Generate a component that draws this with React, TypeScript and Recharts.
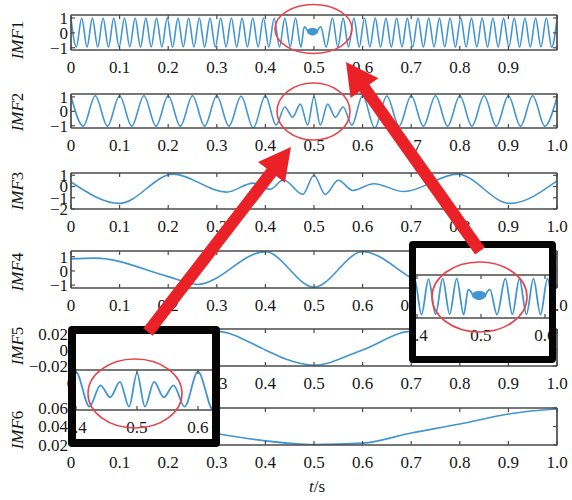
import React from "react";
import { LineChart, Line, XAxis, YAxis } from "recharts";

type Pt = [number, number];

const SERIF = '"Liberation Serif", "Times New Roman", Times, serif';
const FRAME = "#4a4a4a";
const TRACE = "#4195d1";
const ARROW_RED = "#ea2227";
const RING_RED = "#e2474d";
const INK = "#161616";

// Time axis ticks (s)
const timeTicks = [0, 0.1, 0.2, 0.3, 0.4, 0.5, 0.6, 0.7, 0.8, 0.9, 1.0];
const zoomTicks = [0.4, 0.5, 0.6];

// Amplitude ticks of each component
const imf1Ticks = [-1, 0, 1];
const imf2Ticks = [-1, 0, 1];
const imf3Ticks = [-2, -1, 0, 1];
const imf4Ticks = [-1, 0, 1];
const imf5Ticks = [-0.02, 0, 0.02];
const imf6Ticks = [0.02, 0.04, 0.06];

// IMF1: fast oscillation with the disturbance near t = 0.5 s
const imf1: Pt[] = [
  [0.0, 0.95], [0.011, -0.95], [0.022, 1.0], [0.033, -0.96], [0.044, 0.99], [0.055, -0.95],
  [0.066, 1.0], [0.077, -0.96], [0.088, 0.99], [0.099, -0.95], [0.11, 1.0], [0.121, -0.95],
  [0.132, 1.0], [0.143, -0.96], [0.154, 0.99], [0.165, -0.95], [0.176, 1.0], [0.187, -0.95],
  [0.198, 1.0], [0.209, -0.96], [0.22, 0.99], [0.231, -0.95], [0.242, 1.0], [0.253, -0.95],
  [0.264, 1.0], [0.275, -0.96], [0.286, 0.99], [0.297, -0.95], [0.308, 1.0], [0.319, -0.95],
  [0.33, 1.0], [0.341, -0.96], [0.352, 0.99], [0.363, -0.95], [0.374, 1.0], [0.385, -0.95],
  [0.396, 1.0], [0.407, -0.96], [0.418, 0.98], [0.429, -0.95], [0.44, 1.0], [0.451, -0.94],
  [0.462, 1.0], [0.473, -0.97],
  [0.48, 0.4], [0.484, 0.3],
  [0.487, 0.1], [0.488, 0.0], [0.489, 0.22], [0.49, -0.06], [0.491, 0.26], [0.492, -0.1],
  [0.493, 0.28], [0.494, -0.12], [0.495, 0.29], [0.496, -0.13], [0.497, 0.29], [0.498, -0.13],
  [0.499, 0.29], [0.5, -0.12], [0.501, 0.28], [0.502, -0.1], [0.503, 0.26], [0.504, -0.06],
  [0.505, 0.22], [0.506, 0.0], [0.507, 0.1],
  [0.51, 0.3], [0.514, 0.4],
  [0.525, -0.97], [0.538, 1.0], [0.549, -0.95], [0.56, 0.99], [0.571, -0.95], [0.582, 1.0],
  [0.593, -0.96], [0.604, 1.0], [0.615, -0.95], [0.626, 0.99], [0.637, -0.95], [0.648, 1.0],
  [0.659, -0.96], [0.67, 1.0], [0.681, -0.95], [0.692, 0.99], [0.703, -0.95], [0.714, 1.0],
  [0.725, -0.96], [0.736, 1.0], [0.747, -0.95], [0.758, 0.99], [0.769, -0.95], [0.78, 1.0],
  [0.791, -0.96], [0.802, 1.0], [0.813, -0.95], [0.824, 0.99], [0.835, -0.95], [0.846, 1.0],
  [0.857, -0.96], [0.868, 1.0], [0.879, -0.95], [0.89, 0.99], [0.901, -0.95], [0.912, 1.0],
  [0.923, -0.96], [0.934, 1.0], [0.945, -0.95], [0.956, 0.99], [0.967, -0.95], [0.978, 1.0],
  [0.989, -0.96], [1.0, 0.9],
];

// IMF2: 20 Hz component, modulated between 0.42 s and 0.58 s
const imf2: Pt[] = [
  [0.0, 1.06], [0.025, -1.02], [0.05, 1.08], [0.075, -1.02], [0.1, 1.08], [0.125, -1.02],
  [0.15, 1.08], [0.175, -1.02], [0.2, 1.08], [0.225, -1.02], [0.25, 1.08], [0.275, -1.02],
  [0.3, 1.08], [0.325, -1.02], [0.35, 1.04], [0.375, -1.15], [0.4, 1.08],
  [0.422, -0.95], [0.44, 0.3], [0.456, -0.4], [0.472, 0.5], [0.487, -0.95], [0.5, 1.02],
  [0.513, -0.95], [0.528, 0.5], [0.544, -0.4], [0.56, 0.3], [0.578, -0.95],
  [0.6, 1.1], [0.625, -1.15], [0.65, 1.06], [0.675, -1.02], [0.7, 1.08], [0.725, -1.02],
  [0.75, 1.08], [0.775, -1.02], [0.8, 1.08], [0.825, -1.02], [0.85, 1.08], [0.875, -1.02],
  [0.9, 1.08], [0.925, -1.02], [0.95, 1.08], [0.975, -1.02], [1.0, 1.0],
];

const imf3: Pt[] = [
  [0.0, 0.4], [0.1, -1.5], [0.21, 1.1], [0.32, -0.5], [0.375, 0.3], [0.41, -0.25],
  [0.437, 0.6], [0.477, -0.7], [0.5, 1.0], [0.523, -0.7], [0.55, 0.55], [0.58, -0.35],
  [0.623, 0.25], [0.685, -0.45], [0.795, 1.1], [0.903, -1.5], [1.0, 0.5],
];

const imf4: Pt[] = [
  [0.0, 0.85], [0.05, 0.9], [0.2, -0.4], [0.26, -0.95], [0.4, 1.35], [0.5, -1.15],
  [0.6, 1.35], [0.74, -0.95], [0.8, -0.4], [0.95, 0.9], [1.0, 0.85],
];

const imf5: Pt[] = [
  [0.0, 0.0], [0.1, -0.017], [0.3, 0.023], [0.4, 0.0], [0.44, -0.011], [0.5, -0.019],
  [0.6, 0.0], [0.7, 0.023], [0.9, -0.015], [1.0, -0.004],
];

const imf6: Pt[] = [
  [0.0, 0.059], [0.1, 0.053], [0.2, 0.043], [0.3, 0.0325], [0.4, 0.0245], [0.5, 0.0205],
  [0.6, 0.022], [0.7, 0.033], [0.8, 0.0427], [0.9, 0.0535], [0.95, 0.057], [1.0, 0.059],
];

const fmtTime = (v: number) => (v === 0 ? "0" : v.toFixed(1));
const fmtAmp = (v: number) => (v < 0 ? "\u2212" : "") + String(Math.abs(v));

const WIDTH = 572;
const PLOT_LEFT = 71;
const PLOT_RIGHT = 557;
const PAD_TOP = 14;
const PAD_BOTTOM = 32;
// every axis band is 1px thick; margins are reduced by that amount
const AX = 1;
const frameLine = { stroke: FRAME, strokeWidth: 1.7 };

function TimeTick(props: any) {
  const { x, y, payload, showLabel } = props;
  return (
    <g>
      <line x1={x} x2={x} y1={y} y2={y - 4} stroke={FRAME} strokeWidth={1.2} />
      {showLabel ? (
        <text x={x} y={y + 23} textAnchor="middle" style={{ fontFamily: SERIF, fontSize: 17 }} fill={INK}>
          {fmtTime(payload.value)}
        </text>
      ) : null}
    </g>
  );
}

function InnerTick(props: any) {
  const { x, y, dx, dy } = props;
  return <line x1={x} x2={x + dx} y1={y} y2={y + dy} stroke={FRAME} strokeWidth={1.2} />;
}

function AmpTick(props: any) {
  const { x, y, payload } = props;
  return (
    <g>
      <line x1={x} x2={x + 4} y1={y} y2={y} stroke={FRAME} strokeWidth={1.2} />
      <text x={x - 3} y={y} dy="0.35em" textAnchor="end" style={{ fontFamily: SERIF, fontSize: 17 }} fill={INK}>
        {fmtAmp(payload.value)}
      </text>
    </g>
  );
}

interface PanelProps {
  pts: Pt[];
  domain: [number, number];
  yTicks: number[];
  top: number;
  bottom: number;
  lastTimeLabel?: boolean;
}

function Panel({ pts, domain, yTicks, top, bottom, lastTimeLabel = true }: PanelProps) {
  const h = bottom - top + PAD_TOP + PAD_BOTTOM;
  const rows = pts.map(([t, v]) => ({ t, v }));
  return (
    <div style={{ position: "absolute", left: 0, top: top - PAD_TOP, width: WIDTH, height: h }}>
      <LineChart
        width={WIDTH}
        height={h}
        data={rows}
        margin={{ top: PAD_TOP - AX, right: WIDTH - PLOT_RIGHT - AX, bottom: PAD_BOTTOM - AX, left: PLOT_LEFT - AX }}
      >
        <XAxis
          xAxisId="b"
          dataKey="t"
          type="number"
          domain={[0, 1]}
          ticks={timeTicks}
          interval={0}
          height={AX}
          tickSize={0}
          tickMargin={0}
          tickLine={false}
          axisLine={frameLine}
          allowDataOverflow
          tick={(p: any) => <TimeTick {...p} showLabel={lastTimeLabel || p.payload.value < 1} />}
        />
        <XAxis
          xAxisId="t"
          orientation="top"
          dataKey="t"
          type="number"
          domain={[0, 1]}
          ticks={timeTicks}
          interval={0}
          height={AX}
          tickSize={0}
          tickMargin={0}
          tickLine={false}
          axisLine={frameLine}
          allowDataOverflow
          tick={(p: any) => <InnerTick {...p} dx={0} dy={4} />}
        />
        <YAxis
          yAxisId="l"
          type="number"
          domain={domain}
          ticks={yTicks}
          interval={0}
          width={AX}
          tickSize={0}
          tickMargin={0}
          tickLine={false}
          axisLine={frameLine}
          allowDataOverflow
          tick={(p: any) => <AmpTick {...p} />}
        />
        <YAxis
          yAxisId="r"
          orientation="right"
          type="number"
          domain={domain}
          ticks={yTicks}
          interval={0}
          width={AX}
          tickSize={0}
          tickMargin={0}
          tickLine={false}
          axisLine={frameLine}
          allowDataOverflow
          tick={(p: any) => <InnerTick {...p} dx={-4} dy={0} />}
        />
        <Line
          xAxisId="b"
          yAxisId="l"
          dataKey="v"
          type="monotone"
          stroke={TRACE}
          strokeWidth={1.6}
          dot={false}
          isAnimationActive={false}
        />
      </LineChart>
    </div>
  );
}

interface InsetProps {
  pts: Pt[];
  left: number;
  top: number;
  width: number;
  height: number;
  border: number;
  tDomain: [number, number];
  lineTop: number;
  lineBottom: number;
}

// Magnified view of a component around the disturbance, in a heavy black frame
function ZoomInset({ pts, left, top, width, height, border, tDomain, lineTop, lineBottom }: InsetProps) {
  const iw = width - 2 * border;
  const ih = height - 2 * border;
  const innerTop = top + border;
  const rows = pts.filter(([t]) => t >= tDomain[0] - 0.03 && t <= tDomain[1] + 0.03).map(([t, v]) => ({ t, v }));
  return (
    <div
      style={{
        position: "absolute",
        left,
        top,
        width,
        height,
        boxSizing: "border-box",
        border: `${border}px solid #050505`,
        borderRadius: 4,
        background: "#fff",
        overflow: "hidden",
      }}
    >
      <LineChart
        width={iw}
        height={ih}
        data={rows}
        margin={{ top: lineTop - innerTop - AX, right: 0, bottom: innerTop + ih - lineBottom - AX, left: 0 }}
      >
        <XAxis
          xAxisId="b"
          dataKey="t"
          type="number"
          domain={tDomain}
          ticks={zoomTicks}
          interval={0}
          height={AX}
          tickSize={0}
          tickMargin={0}
          tickLine={false}
          axisLine={frameLine}
          allowDataOverflow
          tick={(p: any) => <TimeTick {...p} showLabel />}
        />
        <XAxis
          xAxisId="t"
          orientation="top"
          dataKey="t"
          type="number"
          domain={tDomain}
          ticks={zoomTicks}
          interval={0}
          height={AX}
          tickSize={0}
          tickMargin={0}
          tickLine={false}
          axisLine={frameLine}
          allowDataOverflow
          tick={(p: any) => <InnerTick {...p} dx={0} dy={4} />}
        />
        <YAxis yAxisId="l" type="number" domain={[-1.15, 1.2]} hide allowDataOverflow />
        <Line
          xAxisId="b"
          yAxisId="l"
          dataKey="v"
          type="monotone"
          stroke={TRACE}
          strokeWidth={1.8}
          dot={false}
          isAnimationActive={false}
        />
      </LineChart>
    </div>
  );
}

function arrowPath(x1: number, y1: number, x2: number, y2: number) {
  const shaft = 12;
  const headLen = 32;
  const headHalf = 17;
  const len = Math.hypot(x2 - x1, y2 - y1);
  const ux = (x2 - x1) / len;
  const uy = (y2 - y1) / len;
  const nx = -uy;
  const ny = ux;
  const bx = x2 - ux * headLen;
  const by = y2 - uy * headLen;
  const s = shaft / 2;
  const p = [
    [x1 + nx * s, y1 + ny * s],
    [bx + nx * s, by + ny * s],
    [bx + nx * headHalf, by + ny * headHalf],
    [x2, y2],
    [bx - nx * headHalf, by - ny * headHalf],
    [bx - nx * s, by - ny * s],
    [x1 - nx * s, y1 - ny * s],
  ];
  return p.map((q) => q[0].toFixed(1) + "," + q[1].toFixed(1)).join(" ");
}

const panelNames = [
  { n: "1", y: 40 },
  { n: "2", y: 112 },
  { n: "3", y: 191 },
  { n: "4", y: 272 },
  { n: "5", y: 346 },
  { n: "6", y: 430 },
];

const rings = [
  { cx: 313.5, cy: 29, rx: 38.5, ry: 24.5 },
  { cx: 313.5, cy: 111.5, rx: 36.5, ry: 28.5 },
  { cx: 479.5, cy: 297, rx: 47.5, ry: 35 },
  { cx: 135, cy: 393.5, rx: 47, ry: 34.5 },
];

const arrows = [
  { x1: 480, y1: 251, x2: 346, y2: 62 },
  { x1: 148, y1: 332, x2: 291, y2: 147 },
];

export default function App() {
  return (
    <div style={{ position: "absolute", left: 0, top: 0, width: WIDTH, height: 500, background: "#fff", overflow: "hidden" }}>
      <Panel pts={imf1} domain={[-1.15, 1.2]} yTicks={imf1Ticks} top={15} bottom={50} lastTimeLabel={false} />
      <Panel pts={imf2} domain={[-1.15, 1.2]} yTicks={imf2Ticks} top={94} bottom={128} />
      <Panel pts={imf3} domain={[-2, 1.2]} yTicks={imf3Ticks} top={173} bottom={209} />
      <Panel pts={imf4} domain={[-1.2, 1.4]} yTicks={imf4Ticks} top={251} bottom={288} />
      <Panel pts={imf5} domain={[-0.02, 0.026]} yTicks={imf5Ticks} top={329} bottom={366} />
      <Panel pts={imf6} domain={[0.02, 0.06]} yTicks={imf6Ticks} top={408} bottom={445} />

      <ZoomInset pts={imf1} left={409} top={241} width={147} height={122} border={7} tDomain={[0.3984, 0.6063]} lineTop={275} lineBottom={318} />
      <ZoomInset pts={imf2} left={68} top={326} width={152} height={121} border={8} tDomain={[0.4, 0.623]} lineTop={370} lineBottom={410} />

      <svg width={WIDTH} height={500} style={{ position: "absolute", left: 0, top: 0, pointerEvents: "none" }}>
        {panelNames.map((p) => (
          <text
            key={p.n}
            transform={`translate(17, ${p.y}) rotate(-90)`}
            textAnchor="middle"
            dominantBaseline="central"
            style={{ fontFamily: SERIF, fontSize: 17 }}
            fill={INK}
          >
            <tspan fontStyle="italic">IMF</tspan>
            <tspan>{p.n}</tspan>
          </text>
        ))}
        <text x={317} y={492} textAnchor="middle" style={{ fontFamily: SERIF, fontSize: 17 }} fill={INK}>
          <tspan fontStyle="italic">t</tspan>
          <tspan>/s</tspan>
        </text>
        {rings.map((r, i) => (
          <ellipse key={i} cx={r.cx} cy={r.cy} rx={r.rx} ry={r.ry} fill="none" stroke={RING_RED} strokeWidth={1.6} />
        ))}
        {arrows.map((a, i) => (
          <polygon key={i} points={arrowPath(a.x1, a.y1, a.x2, a.y2)} fill={ARROW_RED} />
        ))}
      </svg>
    </div>
  );
}
